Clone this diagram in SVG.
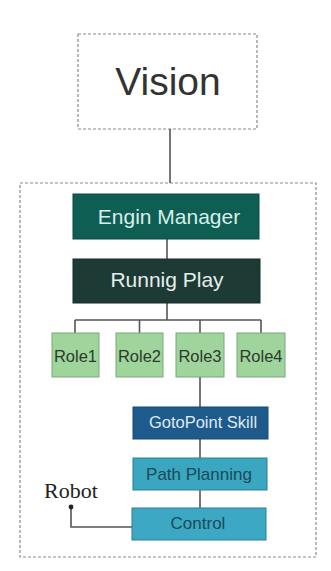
<svg xmlns="http://www.w3.org/2000/svg" width="331" height="571" viewBox="0 0 331 571">
<style>
.dash{fill:#ffffff;stroke:#8a8a8a;stroke-width:1.2;stroke-dasharray:3,2}
.conn{fill:none;stroke:#555555;stroke-width:1.6}
.sans{font-family:"Liberation Sans",Arial,sans-serif;text-anchor:middle}
.role rect{fill:#9fd49d;stroke:#7aa878;stroke-width:1}
.role text{font-size:16.5px;fill:#2b3a2b}
</style>
<rect width="331" height="571" fill="#ffffff"/>
<g id="container"><rect class="dash" x="20" y="183" width="296" height="374"/></g>
<g id="vision">
<rect class="dash" x="78" y="34" width="179" height="95"/>
<text class="sans" x="168" y="95" font-size="39" fill="#333333">Vision</text>
</g>
<g id="connectors">
<path class="conn" d="M170 129V183"/>
<path class="conn" d="M167 239V259"/>
<path class="conn" d="M167 303V320M75 320H261M75 320V333M139.5 320V333M200 320V333M261 320V333"/>
<path class="conn" d="M200 377V407"/>
<path class="conn" d="M200 439V458"/>
<path class="conn" d="M200 490V508"/>
<path class="conn" d="M71 507V527H132"/>
<circle cx="71" cy="507" r="2.4" fill="#222222"/>
</g>
<g id="engin">
<rect x="73" y="194" width="186" height="45" fill="#0e5e54" stroke="#0b4a42"/>
<text class="sans" x="169" y="224" font-size="21" fill="#d8efe9">Engin Manager</text>
</g>
<g id="play">
<rect x="73" y="259" width="187" height="44" fill="#1e3a35" stroke="#162c28"/>
<text class="sans" x="167" y="287" font-size="21" fill="#e6eeec">Runnig Play</text>
</g>
<g id="role1" class="role"><rect x="52" y="333" width="47" height="44"/><text class="sans" x="75.5" y="362">Role1</text></g>
<g id="role2" class="role"><rect x="116" y="333" width="47" height="44"/><text class="sans" x="139.5" y="362">Role2</text></g>
<g id="role3" class="role"><rect x="176" y="333" width="48" height="44"/><text class="sans" x="200" y="362">Role3</text></g>
<g id="role4" class="role"><rect x="237" y="333" width="48" height="44"/><text class="sans" x="261" y="362">Role4</text></g>
<g id="goto">
<rect x="133" y="407" width="135" height="32" fill="#1f5a8c" stroke="#174a74"/>
<text class="sans" x="203" y="428" font-size="16.5" fill="#dfeaf3">GotoPoint Skill</text>
</g>
<g id="path">
<rect x="133" y="458" width="134" height="32" fill="#3ba6c0" stroke="#2a7f95"/>
<text class="sans" x="199" y="480" font-size="17" fill="#1a4a5a">Path Planning</text>
</g>
<g id="control">
<rect x="132" y="508" width="134" height="32" fill="#3ca8c3" stroke="#2a7f95"/>
<text class="sans" x="198" y="529" font-size="17" fill="#1a4a5a">Control</text>
</g>
<g id="robot">
<text x="71" y="498" font-family="'Liberation Serif','Times New Roman',serif" font-size="22" text-anchor="middle" fill="#222222">Robot</text>
</g>
</svg>
